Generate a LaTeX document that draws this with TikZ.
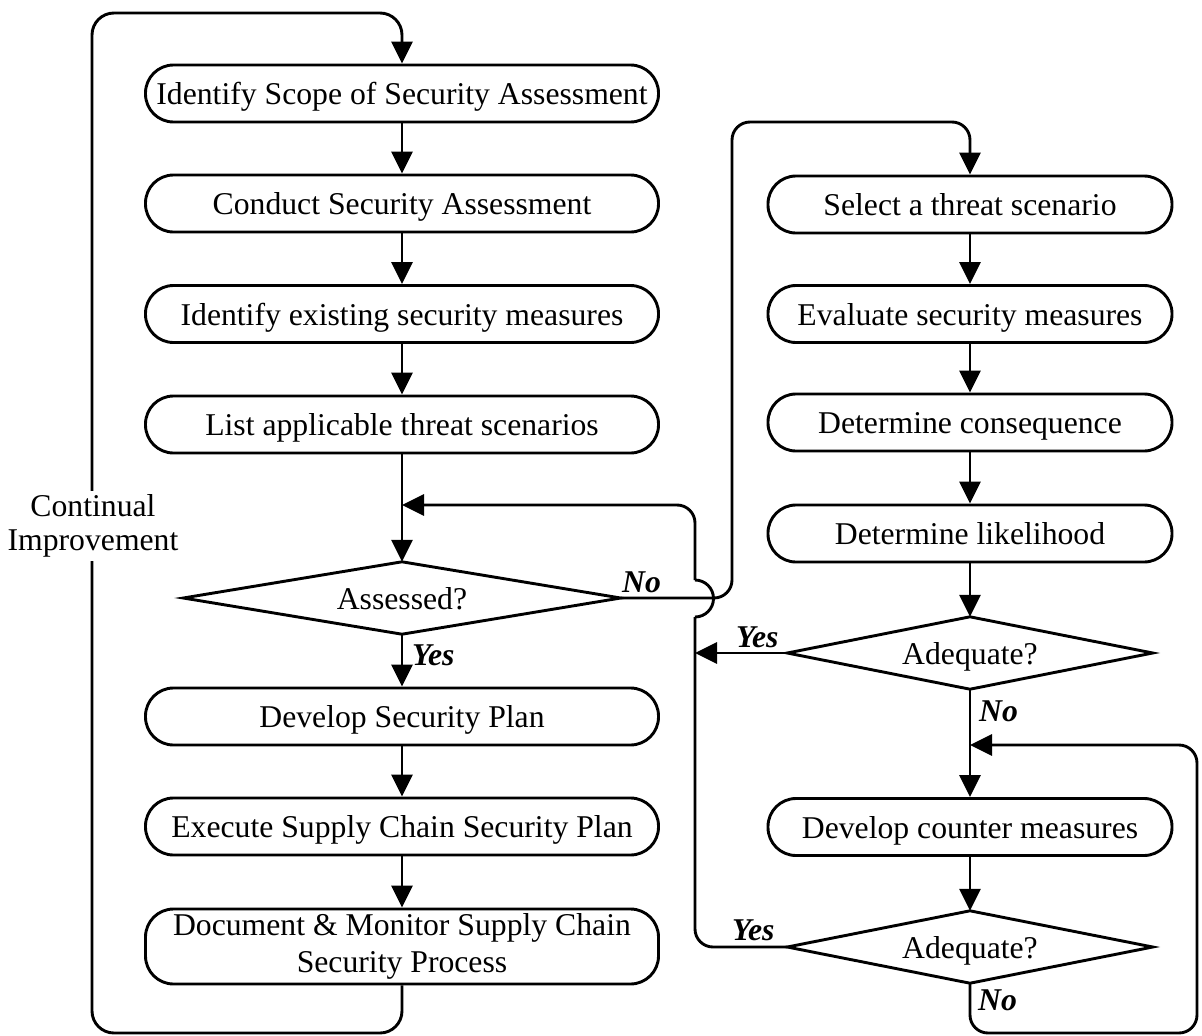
\documentclass[tikz,border=0pt]{standalone}
\usepackage{fontspec}
\setmainfont{Liberation Serif}
\usetikzlibrary{arrows.meta}
\begin{document}
\begin{tikzpicture}[x=1pt,y=-1pt,
  every node/.style={font=\fontsize{31.7pt}{35pt}\selectfont},
  oneline/.style={text height=22pt, text depth=0pt},
  proc/.style={draw, line width=2.9pt, rounded corners=28pt, minimum height=57pt, inner sep=0pt, align=center},
  lbox/.style={proc, oneline, minimum width=513pt},
  rbox/.style={proc, oneline, minimum width=404pt},
  dec/.style={inner sep=0pt, oneline, minimum height=72pt},
  lab/.style={font=\fontsize{31.7pt}{35pt}\selectfont\bfseries\itshape, inner sep=0pt, anchor=base west},
  conn/.style={line width=2.9pt},
  arr/.style={conn, -{Triangle[length=22pt,width=21pt]}}
]
\useasboundingbox (0,0) rectangle (1202,1036);

% left column
\node[lbox] (b1) at (402,93.5) {Identify Scope of Security Assessment};
\node[lbox] (b2) at (402,203.5) {Conduct Security Assessment};
\node[lbox] (b3) at (402,314) {Identify existing security measures};
\node[lbox] (b4) at (402,424.5) {List applicable threat scenarios};
\node[dec, minimum width=437pt] (d1) at (402,598) {Assessed?};
\draw[conn] (d1.west) -- (d1.north) -- (d1.east) -- (d1.south) -- cycle;
\node[lbox] (b5) at (402,716.5) {Develop Security Plan};
\node[lbox] (b6) at (402,826.5) {Execute Supply Chain Security Plan};
\node[proc, minimum width=513pt, minimum height=75pt, font=\fontsize{31.7pt}{36.5pt}\selectfont] (b7) at (402,946.5) {Document \& Monitor Supply Chain\\Security Process};

% right column
\node[rbox] (r1) at (970,204.5) {Select a threat scenario};
\node[rbox] (r2) at (970,314) {Evaluate security measures};
\node[rbox] (r3) at (970,422.5) {Determine consequence};
\node[rbox] (r4) at (970,533.5) {Determine likelihood};
\node[dec, minimum width=365pt] (d2) at (970,653) {Adequate?};
\draw[conn] (d2.west) -- (d2.north) -- (d2.east) -- (d2.south) -- cycle;
\node[rbox] (r5) at (970,827) {Develop counter measures};
\node[dec, minimum width=365pt] (d3) at (970,947) {Adequate?};
\draw[conn] (d3.west) -- (d3.north) -- (d3.east) -- (d3.south) -- cycle;

% junction coordinates
\coordinate (j0) at (402,505);
\coordinate (jy) at (695,653);
\coordinate (jA) at (695,617);
\coordinate (jB) at (695,580);
\coordinate (j2) at (970,745);

% left column arrows
\draw[arr] (b1) -- (b2);
\draw[arr] (b2) -- (b3);
\draw[arr] (b3) -- (b4);
\draw[arr] (b4.south) -- (d1.north);
\draw[arr] (d1.south) -- (b5.north);
\draw[arr] (b5) -- (b6);
\draw[arr] (b6) -- (b7);

% right column arrows
\draw[arr] (r1) -- (r2);
\draw[arr] (r2) -- (r3);
\draw[arr] (r3) -- (r4);
\draw[arr] (r4.south) -- (d2.north);
\draw[arr] (d2.south) -- (r5.north);
\draw[arr] (r5.south) -- (d3.north);

% No from Assessed? to Select
\draw[arr, rounded corners=18pt] (d1.east) -- (732,598) -- (732,122) -- (970,122) -- (r1.north);

% Yes from first Adequate?
\draw[arr] (d2.west) -- (jy);

% Yes from second Adequate? back to the left column, with a jump
\draw[conn, rounded corners=18pt] (d3.west) -- (695,947) -- (jA);
\draw[conn] (jA) arc[start angle=90, end angle=-90, radius=18.5];
\draw[arr, rounded corners=18pt] (jB) -- (695,505) -- (j0);

% No from second Adequate? back above counter measures
\draw[arr, rounded corners=18pt] (d3.south) -- (970,1033) -- (1197,1033) -- (1197,745) -- (j2);

% continual improvement loop
\draw[arr, rounded corners=22pt] (b7.south) -- (402,1033) -- (92,1033) -- (92,13) -- (402,13) -- (b1.north);
\node[fill=white, align=center, inner sep=4pt, font=\fontsize{31.7pt}{34pt}\selectfont] (ci) at (93,526) {Continual\\Improvement};

% labels
\node[lab] (no1) at (622,592) {No};
\node[lab] (yes1) at (412,665) {Yes};
\node[lab] (yes2) at (736,647) {Yes};
\node[lab] (no2) at (979,721) {No};
\node[lab] (yes3) at (732,940) {Yes};
\node[lab] (no3) at (978,1010) {No};
\end{tikzpicture}
\end{document}
